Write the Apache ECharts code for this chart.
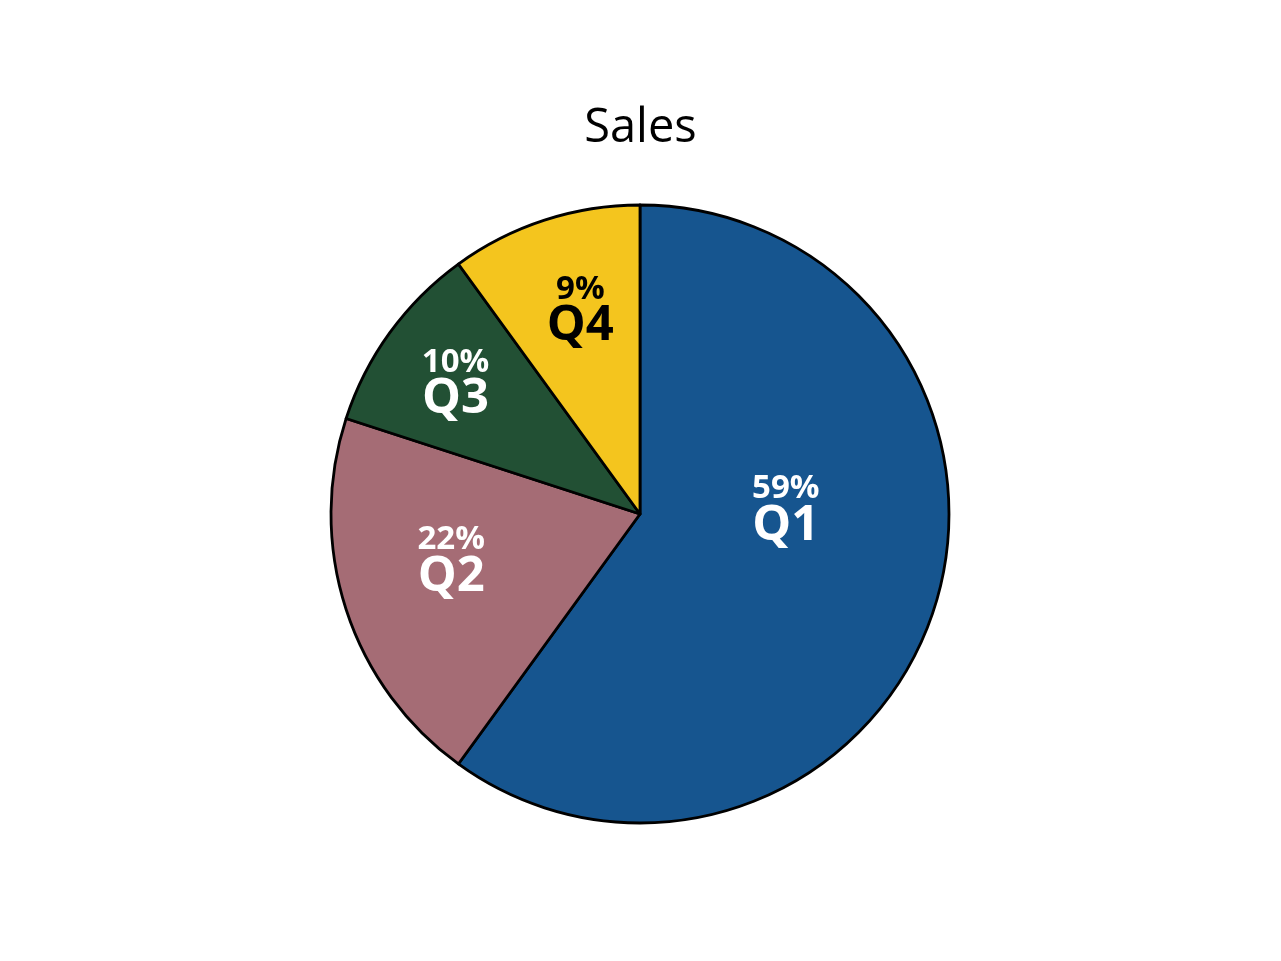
<!DOCTYPE html>
<html>
<head>
<meta charset="utf-8">
<script src="https://cdn.jsdelivr.net/npm/echarts@6/dist/echarts.min.js"></script>
<style>
html,body{margin:0;padding:0;background:#fff;}
#chart{width:1281px;height:961px;}
</style>
</head>
<body>
<div id="chart"></div>
<script>
var categories = ['Q1', 'Q2', 'Q3', 'Q4'];
var values = [60, 20, 10, 10];
var percentLabels = ['59%', '22%', '10%', '9%'];
var colors = ['#16558f', '#a56c75', '#225034', '#f4c51e'];
var labelColors = ['#ffffff', '#ffffff', '#ffffff', '#000000'];

var labelOffsets = [[-4, -54], [-39, -3], [-57, -39], [-11, -55]];

var chart = echarts.init(document.getElementById('chart'));
var data = categories.map(function (c, i) {
  return {
    name: c,
    value: values[i],
    itemStyle: { color: colors[i] },
    label: {
      offset: labelOffsets[i],
      rich: {
        p: { color: labelColors[i] },
        q: { color: labelColors[i] }
      }
    }
  };
});

chart.setOption({
  animation: false,
  title: {
    text: 'Sales',
    left: 'center',
    top: 100,
    textStyle: {
      fontFamily: 'Open Sans',
      fontSize: 47,
      fontWeight: 'normal',
      color: '#000'
    }
  },
  series: [{
    type: 'pie',
    center: [640, 514],
    radius: 309,
    startAngle: 90,
    clockwise: true,
    avoidLabelOverlap: false,
    itemStyle: { borderColor: '#000', borderWidth: 2.8 },
    emphasis: { disabled: true },
    label: {
      show: true,
      position: 'inside',
      fontFamily: 'Open Sans',
      formatter: function (p) {
        return '{p|' + percentLabels[p.dataIndex] + '}\n{q|' + p.name + '}';
      },
      rich: {
        p: { fontFamily: 'Open Sans', fontWeight: 'bold', fontSize: 33, lineHeight: 34, align: 'center' },
        q: { fontFamily: 'Open Sans', fontWeight: 'bold', fontSize: 49, lineHeight: 40, align: 'center' }
      }
    },
    labelLine: { show: false },
    data: data
  }]
});
</script>
</body>
</html>
